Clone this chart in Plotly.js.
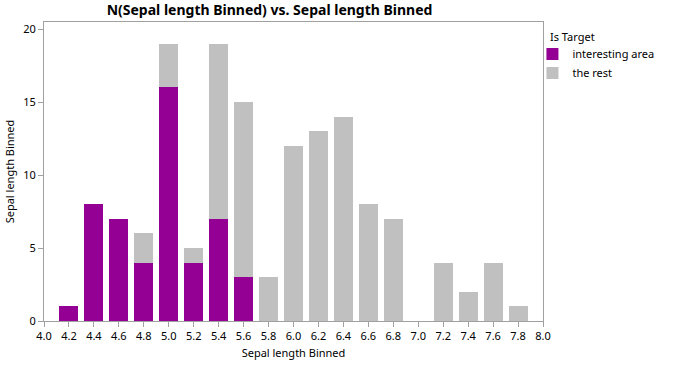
<!DOCTYPE html>
<html><head><meta charset="utf-8">
<script src="https://cdn.plot.ly/plotly-3.0.1.min.js"></script>
<style>html,body{margin:0;padding:0;background:#fff}#c{width:680px;height:366px}</style>
</head><body><div id="c"></div>
<script>
const bins = [4.2,4.4,4.6,4.8,5.0,5.2,5.4,5.6,5.8,6.0,6.2,6.4,6.6,6.8,7.0,7.2,7.4,7.6,7.8];
const interesting = [1,8,7,4,16,4,7,3,0,0,0,0,0,0,0,0,0,0,0];
const rest = [0,0,0,2,3,1,12,12,3,12,13,14,8,7,0,4,2,4,1];
const xTicks = [4.0,4.2,4.4,4.6,4.8,5.0,5.2,5.4,5.6,5.8,6.0,6.2,6.4,6.6,6.8,7.0,7.2,7.4,7.6,7.8,8.0];
const font = 'Noto Sans, Open Sans, sans-serif';
const data = [
  {type:'bar', name:'interesting area', x:bins, y:interesting, width:0.152, marker:{color:'#940094'}},
  {type:'bar', name:'the rest', x:bins, y:rest, width:0.152, marker:{color:'#c0c0c0'}}
];
const layout = {
  width:680, height:366, barmode:'stack',
  paper_bgcolor:'#fff', plot_bgcolor:'#fff',
  margin:{l:44, r:137, t:22, b:45, autoexpand:false},
  font:{family:font, size:11, color:'#000'},
  title:{text:'<b>N(Sepal length Binned) vs. Sepal length Binned</b>', font:{family:font, size:14, color:'#000'}, x:0.452, xref:'paper', xanchor:'center', y:0.985, yref:'container', yanchor:'top'},
  xaxis:{range:[4.0,8.0], tickvals:xTicks, ticktext:xTicks.map(v=>v.toFixed(1)), showgrid:false, zeroline:false,
    showline:true, linecolor:'#a0a0a0', linewidth:1, mirror:true, ticks:'outside', ticklen:5, tickcolor:'#a0a0a0',
    tickfont:{size:11}, title:{text:'Sepal length Binned', font:{size:11}, standoff:7}},
  yaxis:{range:[0,20.48], tickvals:[0,5,10,15,20], showgrid:false, zeroline:false,
    showline:true, linecolor:'#a0a0a0', linewidth:1, mirror:true, ticks:'outside', ticklen:5, tickcolor:'#a0a0a0',
    tickfont:{size:11}, title:{text:'Sepal length Binned', font:{size:11}, standoff:6}},
  legend:{xref:'container', yref:'container', x:0.783, xanchor:'left', y:0.892, yanchor:'top', font:{size:11},
    tracegroupgap:0, itemwidth:30, bgcolor:'rgba(0,0,0,0)', traceorder:'normal'},
  annotations:[{text:'Is Target', xref:'paper', yref:'paper', x:1.01, y:0.95, xanchor:'left', yanchor:'middle', showarrow:false, font:{size:11}}],
  showlegend:true
};
Plotly.newPlot('c', data, layout, {displayModeBar:false, staticPlot:true});
</script></body></html>
